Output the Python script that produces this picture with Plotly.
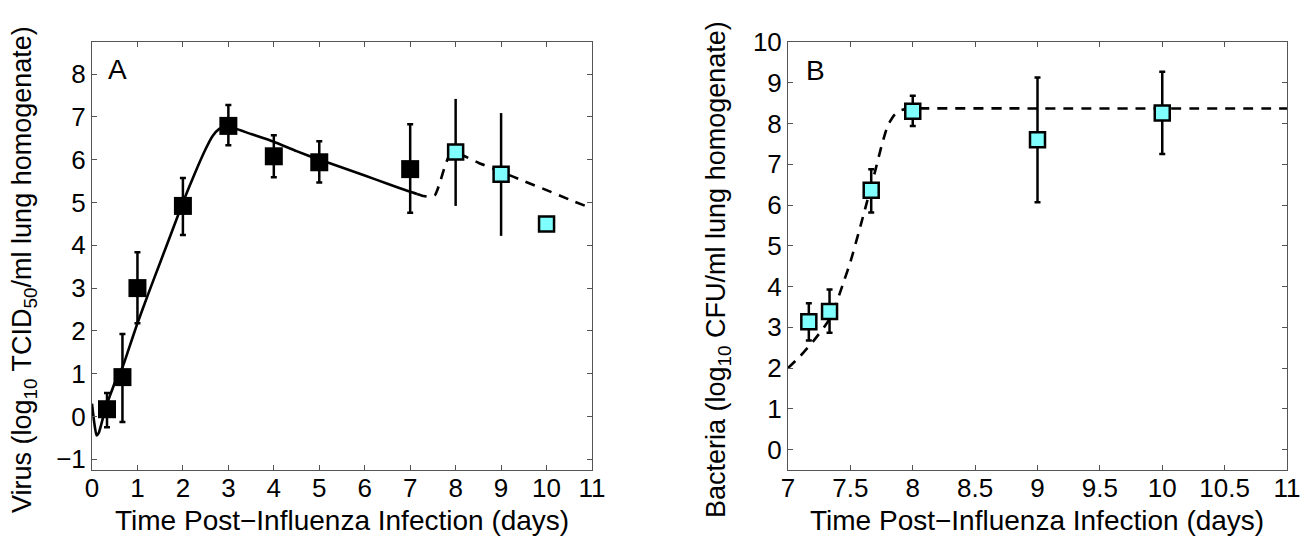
import plotly.graph_objects as go

# ---------------- Data ----------------
# Panel A: virus titers
a_black_x = [0.33, 0.67, 1, 2, 3, 4, 5, 7]
a_black_y = [0.17, 0.92, 3.0, 4.92, 6.79, 6.08, 5.94, 5.78]
a_black_hi = [0.55, 1.93, 3.84, 5.57, 7.28, 6.57, 6.43, 6.83]
a_black_lo = [-0.25, -0.13, 2.18, 4.24, 6.34, 5.59, 5.47, 4.76]

a_cyan_x = [8, 9, 10]
a_cyan_y = [6.18, 5.66, 4.5]
a_cyan_hi = [7.42, 7.09, 4.5]
a_cyan_lo = [4.92, 4.22, 4.5]

a_fit_x = [0, 0.05, 0.1, 0.15, 0.2, 0.3, 0.4, 0.5, 0.67, 0.8, 1.0, 1.25, 1.5, 1.75,
           2.0, 2.25, 2.5, 2.65, 2.8, 2.95, 3.0, 3.5, 4.0, 4.5, 5.0, 5.5, 6.0, 6.5, 7.0, 7.15]
a_fit_y = [0.3, -0.15, -0.44, -0.38, -0.2, 0.2, 0.5, 0.78, 1.15, 1.55, 2.18, 2.9, 3.6, 4.3,
           5.0, 5.65, 6.25, 6.55, 6.72, 6.78, 6.78, 6.6, 6.42, 6.2, 6.0, 5.82, 5.63, 5.44, 5.25, 5.2]

a_dash_x = [7.15, 7.3, 7.45, 7.55, 7.65, 7.75, 7.85, 7.95, 8.05, 8.2, 8.5, 9.0, 9.5, 10.0, 10.5, 11.0]
a_dash_y = [5.2, 5.15, 5.13, 5.18, 5.45, 5.8, 6.08, 6.17, 6.15, 6.08, 5.93, 5.72, 5.5, 5.29, 5.07, 4.86]

# Panel B: bacteria titers
b_x = [7.167, 7.333, 7.667, 8, 9, 10]
b_y = [3.14, 3.39, 6.36, 8.3, 7.6, 8.26]
b_hi = [3.59, 3.93, 6.88, 8.68, 9.13, 9.27]
b_lo = [2.68, 2.87, 5.82, 7.94, 6.07, 7.25]

b_fit_x = [7.0, 7.1, 7.2, 7.3, 7.35, 7.4, 7.45, 7.5, 7.6, 7.7, 7.75, 7.8, 7.85, 7.9, 7.95, 8.0, 9.0, 10.0, 11.0]
b_fit_y = [2.0, 2.3, 2.65, 3.05, 3.3, 3.7, 4.15, 4.6, 5.7, 6.85, 7.45, 7.95, 8.2, 8.32, 8.36, 8.37, 8.37, 8.37, 8.37]

a_xticks = list(range(0, 12))
a_yticks = list(range(-1, 9))
b_xticks = [7, 7.5, 8, 8.5, 9, 9.5, 10, 10.5, 11]
b_xticklabels = ["7", "7.5", "8", "8.5", "9", "9.5", "10", "10.5", "11"]
b_yticks = list(range(0, 11))

CYAN = "#80FFFF"
FONT = "Liberation Sans, Arial, Helvetica, sans-serif"
TICK_SIZE = 26
TITLE_SIZE = 28

fig = go.Figure()

# Panel A curves
fig.add_trace(go.Scatter(x=a_fit_x, y=a_fit_y, mode="lines", line=dict(color="black", width=2.6, shape="spline", smoothing=0.5),
                         xaxis="x", yaxis="y", showlegend=False, hoverinfo="skip"))
fig.add_trace(go.Scatter(x=a_dash_x, y=a_dash_y, mode="lines", line=dict(color="black", width=2.6, dash="10px,8px", shape="spline", smoothing=0.5),
                         xaxis="x", yaxis="y", showlegend=False, hoverinfo="skip"))

# Panel A markers
fig.add_trace(go.Scatter(
    x=a_black_x, y=a_black_y, mode="markers",
    marker=dict(symbol="square", size=18, color="black"),
    error_y=dict(type="data", symmetric=False,
                 array=[h - y for h, y in zip(a_black_hi, a_black_y)],
                 arrayminus=[y - l for l, y in zip(a_black_lo, a_black_y)],
                 color="black", thickness=2.5, width=3),
    xaxis="x", yaxis="y", showlegend=False))
fig.add_trace(go.Scatter(
    x=a_cyan_x, y=a_cyan_y, mode="markers",
    marker=dict(symbol="square", size=15, color=CYAN, line=dict(color="black", width=2.5)),
    error_y=dict(type="data", symmetric=False,
                 array=[h - y for h, y in zip(a_cyan_hi, a_cyan_y)],
                 arrayminus=[y - l for l, y in zip(a_cyan_lo, a_cyan_y)],
                 color="black", thickness=2.5, width=0),
    xaxis="x", yaxis="y", showlegend=False))

# Panel B curve
fig.add_trace(go.Scatter(x=b_fit_x, y=b_fit_y, mode="lines", line=dict(color="black", width=2.6, dash="10px,8px", shape="spline", smoothing=0.5),
                         xaxis="x2", yaxis="y2", showlegend=False, hoverinfo="skip"))
fig.add_trace(go.Scatter(
    x=b_x, y=b_y, mode="markers",
    marker=dict(symbol="square", size=15, color=CYAN, line=dict(color="black", width=2.5)),
    error_y=dict(type="data", symmetric=False,
                 array=[h - y for h, y in zip(b_hi, b_y)],
                 arrayminus=[y - l for l, y in zip(b_lo, b_y)],
                 color="black", thickness=2.5, width=3),
    xaxis="x2", yaxis="y2", showlegend=False))

axis_common = dict(showline=True, linecolor="#555", linewidth=1, mirror="ticks", ticks="inside",
                   ticklen=5, tickwidth=1, tickcolor="#555", showgrid=False, zeroline=False,
                   tickfont=dict(family=FONT, size=TICK_SIZE, color="black"), automargin=False)

W, H = 1310, 537
ml, mr, mt, mb = 92, 23, 42, 67
pw = W - ml - mr
ph = H - mt - mb

fig.update_layout(
    width=W, height=H,
    margin=dict(l=ml, r=mr, t=mt, b=mb),
    paper_bgcolor="white", plot_bgcolor="white",
    font=dict(family=FONT, size=TITLE_SIZE, color="black"),
    xaxis=dict(domain=[0, 500 / pw], range=[0, 11], tickvals=a_xticks, ticklabelstandoff=-5, **axis_common),
    yaxis=dict(domain=[0, 1], range=[-1.25, 8.75], tickvals=a_yticks, anchor="x", **axis_common),
    xaxis2=dict(domain=[(788 - ml) / pw, 1], range=[7, 11], tickvals=b_xticks, ticktext=b_xticklabels,
                anchor="y2", ticklabelstandoff=-5, **axis_common),
    yaxis2=dict(domain=[0, 1], range=[-0.5, 10], tickvals=b_yticks, anchor="x2", **axis_common),
)

ann = []
ann.append(dict(text="A", xref="x", yref="y", x=0.55, y=8.1, showarrow=False, xanchor="center", yanchor="middle",
                font=dict(family=FONT, size=TITLE_SIZE)))
ann.append(dict(text="B", xref="x2", yref="y2", x=7.22, y=9.3, showarrow=False, xanchor="center", yanchor="middle",
                font=dict(family=FONT, size=TITLE_SIZE)))
ann.append(dict(text="Time Post\u2212Influenza Infection (days)", xref="paper", yref="paper",
                x=(342 - ml) / pw, y=(H - 520 - mb) / ph, showarrow=False, xanchor="center", yanchor="middle",
                font=dict(family=FONT, size=TITLE_SIZE)))
ann.append(dict(text="Time Post\u2212Influenza Infection (days)", xref="paper", yref="paper",
                x=(1037 - ml) / pw, y=(H - 520 - mb) / ph, showarrow=False, xanchor="center", yanchor="middle",
                font=dict(family=FONT, size=TITLE_SIZE)))
ann.append(dict(text="Virus (log<sub>10</sub> TCID<sub>50</sub>/ml lung homogenate)", xref="paper", yref="paper",
                x=(24 - ml) / pw, y=(H - 270 - mb) / ph, showarrow=False, textangle=-90,
                xanchor="center", yanchor="middle", font=dict(family=FONT, size=27)))
ann.append(dict(text="Bacteria (log<sub>10</sub> CFU/ml lung homogenate)", xref="paper", yref="paper",
                x=(718 - ml) / pw, y=(H - 270 - mb) / ph, showarrow=False, textangle=-90,
                xanchor="center", yanchor="middle", font=dict(family=FONT, size=27)))
fig.update_layout(annotations=ann)

fig.write_html("out.html", config={"displayModeBar": False},
               post_script="document.body.style.margin='0';document.body.style.overflow='hidden';")
